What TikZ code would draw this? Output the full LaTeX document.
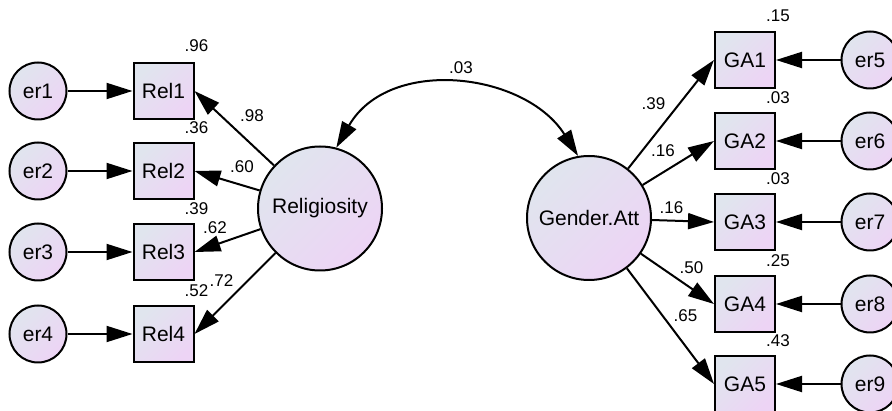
\documentclass[tikz,border=0pt]{standalone}
\usepackage{fontspec}
\setmainfont{Liberation Sans}
\usetikzlibrary{arrows.meta}
\definecolor{cA}{RGB}{224,229,238}
\definecolor{cB}{RGB}{237,212,245}
\tikzset{
  gfill/.style={top color=cA,bottom color=cB,shading angle=45,draw=black,line width=2pt},
  obs/.style={gfill,rectangle,minimum width=60pt,minimum height=56pt,inner sep=0pt,font=\fontsize{21}{23}\selectfont},
  errc/.style={gfill,circle,minimum size=57pt,inner sep=0pt,font=\fontsize{21}{23}\selectfont},
  lat/.style={gfill,circle,minimum size=124pt,inner sep=0pt,font=\fontsize{21}{23}\selectfont},
  lbl/.style={inner sep=0pt,font=\fontsize{17}{19}\selectfont},
  arr/.style={line width=2pt,-{Triangle[length=26pt,width=16pt]}},
  arrboth/.style={line width=2pt,{Triangle[length=26pt,width=16pt]}-{Triangle[length=26pt,width=16pt]}}
}
\begin{document}
\begin{tikzpicture}[x=1pt,y=-1pt]
\useasboundingbox (0,0) rectangle (892,411);
% left side
\node[errc] (er1) at (38,91) {er1};
\node[errc] (er2) at (38,171) {er2};
\node[errc] (er3) at (38,252) {er3};
\node[errc] (er4) at (38,334) {er4};
\node[obs] (rel1) at (163.5,91) {Rel1};
\node[obs] (rel2) at (163.5,171) {Rel2};
\node[obs] (rel3) at (163.5,252) {Rel3};
\node[obs] (rel4) at (163.5,334) {Rel4};
\node[lat] (relig) at (320,208.5) {Religiosity};
% right side
\node[lat] (gender) at (589,218) {Gender.Att};
\node[obs] (ga1) at (745,60) {GA1};
\node[obs] (ga2) at (745,141) {GA2};
\node[obs] (ga3) at (745,222) {GA3};
\node[obs] (ga4) at (745,304) {GA4};
\node[obs] (ga5) at (745,384) {GA5};
\node[errc] (er5) at (870,60) {er5};
\node[errc] (er6) at (870,141) {er6};
\node[errc] (er7) at (870,222) {er7};
\node[errc] (er8) at (870,304) {er8};
\node[errc] (er9) at (870,384) {er9};
% arrows
\foreach \i in {1,2,3,4} {
  \draw[arr] (er\i) -- (rel\i);
  \draw[arr] (relig) -- (rel\i.east);
}
\foreach \i/\e in {1/5,2/6,3/7,4/8,5/9} {
  \draw[arr] (er\e) -- (ga\i);
  \draw[arr] (gender) -- (ga\i.west);
}
\draw[arrboth] (relig.75) .. controls (389,56) and (525,72) .. (gender.100);
% labels
\node[lbl] (l96) at (196.5,46) {.96};
\node[lbl] (l36) at (196.5,128) {.36};
\node[lbl] (l39a) at (196.5,209) {.39};
\node[lbl] (l52) at (196.5,290.5) {.52};
\node[lbl] (l98) at (252,116) {.98};
\node[lbl] (l60) at (242,167) {.60};
\node[lbl] (l62) at (215,228) {.62};
\node[lbl] (l72) at (221.5,281) {.72};
\node[lbl] (l03) at (461,68) {.03};
\node[lbl] (l39b) at (653.5,104) {.39};
\node[lbl] (l16a) at (663,151) {.16};
\node[lbl] (l16b) at (671.5,207.5) {.16};
\node[lbl] (l50) at (691.5,268) {.50};
\node[lbl] (l65) at (685.5,316) {.65};
\node[lbl] (l15) at (778,16) {.15};
\node[lbl] (l03b) at (778,97.5) {.03};
\node[lbl] (l03c) at (778,179) {.03};
\node[lbl] (l25) at (778,261) {.25};
\node[lbl] (l43) at (778,341) {.43};
\end{tikzpicture}
\end{document}
